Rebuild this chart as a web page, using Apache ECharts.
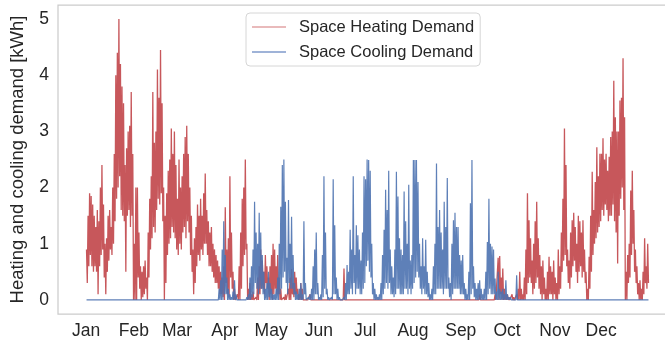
<!DOCTYPE html>
<html>
<head>
<meta charset="utf-8">
<script src="https://cdn.jsdelivr.net/npm/echarts@6/dist/echarts.min.js"></script>
<style>html,body{margin:0;padding:0;background:#fff;overflow:hidden;width:665px;height:347px}#c{width:700px;height:347px}</style>
</head>
<body>
<div id="c"></div>
<script>
// Month tick labels and the first day of each month (day of year)
const monthNames = ['Jan','Feb','Mar','Apr','May','Jun','Jul','Aug','Sep','Oct','Nov','Dec'];
const monthStarts = [0,31,59,90,120,151,181,212,243,273,304,334];
const yTicks = [0,1,2,3,4,5];

// Space heating demand [kWh]: per day, pairs of (daily high, daily low)
const heatJan = [0.9,0.3, 1.5,0.6, 1.9,0.8, 1.85,0.6, 1.7,0.5, 1.5,0.6, 1.3,0.5, 1.6,0.1, 1.4,0.6, 2.0,0.8, 2.4,0.9, 1.7,0.4, 1.0,0.1, 1.1,0.5, 1.5,0.7, 1.6,0.9, 1.3,0.8, 2.0,1.0, 2.6,1.4, 4.0,1.8, 4.4,2.0, 5.0,2.2, 4.2,1.6, 3.8,1.5, 3.5,1.4, 2.4,0.5, 2.7,1.5, 3.0,1.6, 3.1,1.3, 3.7,1.5, 2.6,0.0];
const heatFeb = [1.0,0.0, 2.0,0.0, 2.0,0.4, 1.2,0.2, 0.6,0.0, 0.5,0.05, 0.6,0.1, 0.7,0.2, 0.4,0.0, 1.2,0.4, 1.8,0.9, 2.2,1.1, 3.7,1.3, 2.8,1.2, 3.0,1.6, 4.1,1.8, 3.6,1.7, 4.45,1.9, 3.5,1.4, 2.0,0.0, 1.5,0.3, 1.9,0.8, 2.3,1.0, 2.5,1.1, 3.05,1.3, 2.6,1.2, 3.0,1.1, 2.4,0.9];
const heatMar = [1.8,0.8, 2.5,1.0, 2.0,0.9, 2.2,1.2, 2.6,1.3, 2.9,1.1, 3.1,1.4, 2.6,1.2, 2.0,0.8, 1.5,0.5, 0.9,0.1, 1.1,0.3, 1.3,0.6, 1.7,0.8, 1.5,0.7, 1.8,0.9, 1.5,0.8, 1.9,1.0, 2.25,1.0, 1.6,0.8, 1.4,0.6, 1.2,0.6, 1.3,0.5, 1.0,0.4, 0.9,0.3, 0.8,0.3, 0.7,0.2, 0.6,0.1, 0.5,0.1, 0.4,0.05, 0.6,0.0];
const heatApr = [1.65,0.3, 0.9,0.1, 1.1,0.05, 2.2,0.4, 1.2,0.2, 0.5,0.0, 0.2,0.0, 0.0,0.0, 0.1,0.0, 0.6,0.0, 1.2,0.2, 1.8,0.6, 2.0,0.8, 2.5,0.9, 1.0,0.0, 0.2,0.0, 0.3,0.0, 0.1,0.0, 0.15,0.0, 0.0,0.0, 0.05,0.0, 0.4,0.0, 0.6,0.1, 0.9,0.2, 0.7,0.2, 0.5,0.1, 0.8,0.3, 0.6,0.2, 0.4,0.0, 0.6,0.1];
const heatMay = [0.8,0.0, 1.0,0.1, 0.9,0.2, 0.6,0.1, 0.8,0.1, 0.4,0.0, 0.2,0.0, 0.0,0.0, 0.05,0.0, 0.1,0.0, 0.0,0.0, 0.2,0.0, 0.4,0.0, 0.55,0.1, 0.3,0.05, 0.5,0.1, 0.4,0.1, 0.2,0.0, 0.1,0.0, 0.3,0.0, 0.2,0.0, 0,0, 0,0, 0,0, 0,0, 0.1,0, 0,0, 0,0, 0,0, 0,0, 0,0];
const heatJun = [0,0,0,0,0,0,0,0,0,0,0,0,0,0,0,0,0,0,0,0, 0,0,0,0,0,0,0,0,0,0,0,0, 0.56,0, 0,0,0,0,0,0,0,0,0,0,0,0,0,0,0,0,0,0,0,0,0,0,0,0,0,0];
const heatJul = [0,0,0,0,0,0,0,0,0,0,0,0,0,0,0,0,0,0,0,0, 0,0,0,0,0,0,0,0,0,0,0,0,0,0,0,0,0,0,0,0, 0,0,0,0,0,0,0,0,0,0,0,0,0,0,0,0,0,0,0,0, 0,0];
const heatAug = [0,0,0,0,0,0,0,0,0,0,0,0,0,0,0,0,0,0,0,0, 0,0,0,0,0,0,0,0,0,0,0,0,0,0,0,0,0,0,0,0, 0,0,0,0,0,0,0,0,0,0,0,0,0,0,0,0,0,0,0,0, 0,0];
const heatSep = [0,0,0,0,0,0,0,0,0,0,0,0,0,0,0,0,0,0,0,0,0,0,0,0, 0.1,0, 0,0,0,0,0,0,0,0,0,0,0,0,0,0,0,0,0,0, 0.1,0, 0,0, 0.75,0, 0.78,0.1, 0.4,0, 0.56,0, 0.2,0, 0.1,0];
const heatOct = [0.1,0, 0.05,0, 0,0, 0.1,0, 0.05,0, 0,0, 0.1,0, 0.2,0, 0.5,0, 0.2,0, 0.1,0, 0.4,0, 0.9,0.1, 1.9,0.3, 1.42,0.4, 1.1,0.3, 0.7,0.1, 1.0,0.2, 1.4,0.3, 1.75,0.4, 1.1,0.2, 0.8,0.1, 0.6,0, 0.7,0.1, 0.4,0, 0.2,0, 0.5,0, 0.77,0.1, 0.6,0.1, 0.5,0, 0.7,0.1];
const heatNov = [0.4,0, 0.3,0, 0.9,0.1, 0.6,0.2, 1.2,0.5, 1.8,0.7, 3.05,0.8, 2.4,0.6, 0.9,0.3, 0.7,0.2, 1.2,0.4, 1.42,0.6, 1.55,0.7, 1.3,0.5, 1.0,0.3, 1.5,0.5, 1.4,0.6, 1.2,0.4, 1.42,0.5, 0.9,0.3, 0.5,0, 0.2,0, 0.77,0.2, 1.5,0.5, 2.28,0.8, 1.6,1.0, 2.1,1.1, 2.72,1.2, 2.2,1.3, 2.6,1.4];
const heatDec = [2.6,1.6, 2.88,1.5, 2.5,1.7, 2.6,1.6, 2.3,1.4, 2.55,1.5, 2.9,1.5, 3.0,1.7, 3.9,1.4, 3.25,1.2, 3.0,0.65, 3.0,1.5, 3.55,1.8, 3.6,2.0, 4.3,1.6, 3.25,0.0, 0.5,0.0, 0.8,0.3, 1.0,0.4, 1.95,0.8, 2.3,1.0, 1.6,0.5, 0.9,0.3, 0.6,0.1, 0.3,0.0, 0.35,0.0, 0.2,0.0, 0.5,0.1, 1.1,0.3, 0.6,0.2, 1.0,0.3];

// Space cooling demand [kWh]: per day, pairs of (daily high, daily low)
const coolJan = [0,0,0,0,0,0,0,0,0,0,0,0,0,0,0,0,0,0,0,0, 0,0,0,0,0,0,0,0,0,0,0,0,0,0,0,0,0,0,0,0, 0,0,0,0,0,0,0,0,0,0,0,0,0,0,0,0,0,0,0,0, 0,0];
const coolFeb = [0,0,0,0,0,0,0,0,0,0,0,0,0,0,0,0,0,0,0,0, 0,0,0,0,0,0,0,0,0,0,0,0,0,0,0,0,0,0,0,0, 0,0,0,0,0,0,0,0,0,0,0,0,0,0,0,0];
const coolMar = [0,0,0,0,0,0,0,0,0,0,0,0,0,0,0,0,0,0,0,0, 0,0,0,0,0,0,0,0,0,0,0,0,0,0,0,0,0,0,0,0, 0,0,0,0,0,0,0,0,0,0,0,0,0,0, 0.2,0, 0.35,0, 0.9,0, 1.4,0.1];
const coolApr = [0.8,0.1, 0.4,0, 0.2,0, 0.1,0, 0.05,0, 0.15,0, 0.35,0, 0.1,0, 0,0, 0,0, 0,0, 0,0, 0,0, 0,0, 0.05,0, 0.1,0, 0.4,0, 0.6,0.05, 0.9,0.1, 1.75,0.3, 1.2,0.2, 1.0,0.1, 1.55,0.2, 1.2,0.2, 0.8,0.1, 0.5,0, 0.2,0, 0.3,0, 0.5,0.05, 0.3,0];
const coolMay = [0.2,0, 0.1,0, 0.1,0, 0.2,0, 0.4,0, 1.0,0.1, 1.66,0.2, 2.4,0.4, 2.5,0.5, 1.75,0.3, 0.75,0.1, 1.78,0.3, 1.0,0.2, 1.48,0.2, 0.8,0.1, 0.3,0, 0.15,0, 0.1,0, 0.2,0, 0.3,0, 0.1,0, 1.4,0.1, 0.3,0, 0,0, 0.05,0, 0.1,0, 0.2,0, 0.6,0, 0.9,0.1, 1.2,0.1, 0.3,0];
const coolJun = [0.05,0, 0.1,0, 0.8,0.05, 2.2,0.2, 1.2,0.1, 0.2,0, 0.05,0, 0,0, 0.05,0, 2.15,0.1, 1.33,0.1, 0.4,0, 0.2,0, 0.05,0, 0,0, 0,0, 0.05,0, 0.3,0, 0.62,0.1, 0.5,0.1, 1.25,0.2, 0.9,0.1, 2.2,0.3, 0.8,0.1, 1.33,0.2, 1.15,0.2, 0.9,0.1, 0.7,0.1, 1.2,0.2, 2.2,0.3];
const coolJul = [2.15,0.6, 2.5,0.7, 2.49,0.5, 2.3,0.4, 1.0,0.1, 0.3,0, 0.2,0, 0.1,0, 0.05,0, 0.1,0, 0.3,0, 0.8,0.1, 1.25,0.2, 1.96,0.3, 1.6,0.2, 2.3,0.3, 0.9,0.1, 0.6,0.1, 0.4,0.05, 0.9,0.1, 2.28,0.2, 1.84,0.2, 1.1,0.1, 0.9,0.1, 0.8,0.1, 1.93,0.2, 1.4,0.2, 1.0,0.1, 2.05,0.2, 0.7,0.1, 0.8,0.2];
const coolAug = [2.49,0.3, 2.49,0.4, 2.49,0.5, 2.1,0.4, 1.0,0.2, 0.6,0.1, 1.1,0.2, 0.6,0.1, 1.07,0.1, 0.5,0.05, 0.3,0, 0.1,0, 0.2,0, 0.6,0.1, 1.0,0.1, 2.43,0.2, 1.3,0.2, 1.6,0.2, 1.2,0.2, 0.9,0.1, 1.75,0.2, 1.3,0.2, 2.17,0.2, 0.4,0.05, 0.3,0, 1.0,0.1, 1.42,0.2, 1.55,0.2, 1.3,0.2, 1.3,0.2, 0.8,0.1];
const coolSep = [0.7,0.1, 0.8,0.1, 0.3,0, 0.2,0, 0.1,0, 0.5,0, 1.72,0.1, 2.49,0.2, 0.6,0.05, 0.3,0, 0.2,0, 0.3,0, 0.35,0, 0.2,0, 0.1,0, 0.2,0, 0.5,0, 1.03,0.1, 1.8,0.2, 1.0,0.1, 0.95,0.1, 0.9,0.1, 0.38,0, 0.15,0, 0.5,0, 0.2,0, 0.15,0, 0.2,0, 0.1,0, 0.35,0];
const coolOct = [0.1,0, 0.05,0, 0.05,0, 0,0, 0,0, 0,0, 0.44,0, 0,0,0,0,0,0,0,0,0,0,0,0,0,0,0,0,0,0,0,0, 0,0,0,0,0,0,0,0,0,0,0,0,0,0,0,0,0,0,0,0, 0,0,0,0,0,0,0,0];
const coolNov = [0,0,0,0,0,0,0,0,0,0,0,0,0,0,0,0,0,0,0,0, 0,0,0,0,0,0,0,0,0,0,0,0,0,0,0,0,0,0,0,0, 0,0,0,0,0,0,0,0,0,0,0,0,0,0,0,0,0,0,0,0];
const coolDec = [0,0,0,0,0,0,0,0,0,0,0,0,0,0,0,0,0,0,0,0, 0,0,0,0,0,0,0,0,0,0,0,0,0,0,0,0,0,0,0,0, 0,0,0,0,0,0,0,0,0,0,0,0,0,0,0,0,0,0,0,0, 0,0];

const heatMonths = [heatJan,heatFeb,heatMar,heatApr,heatMay,heatJun,heatJul,heatAug,heatSep,heatOct,heatNov,heatDec];
const coolMonths = [coolJan,coolFeb,coolMar,coolApr,coolMay,coolJun,coolJul,coolAug,coolSep,coolOct,coolNov,coolDec];

function toSeries(months){
  const out = [];
  months.forEach((arr, m) => {
    for (let i = 0; i + 1 < arr.length; i += 2) {
      const d = monthStarts[m] + i / 2;
      out.push([d + 0.25, arr[i]]);
      out.push([d + 0.75, arr[i + 1]]);
    }
  });
  return out;
}

const FONT = '"Liberation Sans", Arial, sans-serif';
const TXT = '#262626';
const chart = echarts.init(document.getElementById('c'), null, {renderer: 'canvas'});
chart.setOption({
  animation: false,
  backgroundColor: '#ffffff',
  textStyle: {fontFamily: FONT},
  grid: {left: 54, top: 5, width: 623, height: 309, show: true, borderColor: '#cccccc', borderWidth: 1.25, containLabel: false},
  legend: {
    orient: 'vertical', left: 246, top: 13,
    padding: [4, 6, 4, 6], itemGap: 5, itemWidth: 34, itemHeight: 1.4,
    icon: 'rect',
    backgroundColor: 'rgba(255,255,255,0.8)', borderColor: '#d6d6d6', borderWidth: 1, borderRadius: 4,
    textStyle: {fontSize: 16.5, color: TXT, fontFamily: FONT, lineHeight: 20, padding: [0, 0, 0, 8]},
    data: [
      {name: 'Space Heating Demand', itemStyle: {color: '#e2a3a5'}},
      {name: 'Space Cooling Demand', itemStyle: {color: '#7f9acb'}}
    ]
  },
  xAxis: {
    type: 'value', min: -18.25, max: 383.25,
    axisLine: {show: false}, axisTick: {show: false}, splitLine: {show: false},
    axisLabel: {
      customValues: monthStarts,
      formatter: v => monthNames[monthStarts.indexOf(v)] || '',
      fontSize: 17.5, color: TXT, fontFamily: FONT, margin: 8
    }
  },
  yAxis: {
    type: 'value', min: -0.25, max: 5.25,
    name: 'Heating and cooling demand [kWh]', nameLocation: 'middle', nameRotate: 90, nameGap: 31,
    nameTextStyle: {fontSize: 18.5, color: TXT, fontFamily: FONT},
    axisLine: {show: false}, axisTick: {show: false}, splitLine: {show: false},
    axisLabel: {customValues: yTicks, fontSize: 17.5, color: TXT, fontFamily: FONT, margin: 9}
  },
  series: [
    {name: 'Space Heating Demand', type: 'line', data: toSeries(heatMonths), symbol: 'none', showSymbol: false,
     color: '#c44e52', lineStyle: {color: '#c44e52', width: 1.3, opacity: 0.95}, sampling: null, z: 2},
    {name: 'Space Cooling Demand', type: 'line', data: toSeries(coolMonths), symbol: 'none', showSymbol: false,
     color: '#4c72b0', lineStyle: {color: '#4c72b0', width: 1.2, opacity: 0.9}, sampling: null, z: 3}
  ]
});
</script>
</body>
</html>
